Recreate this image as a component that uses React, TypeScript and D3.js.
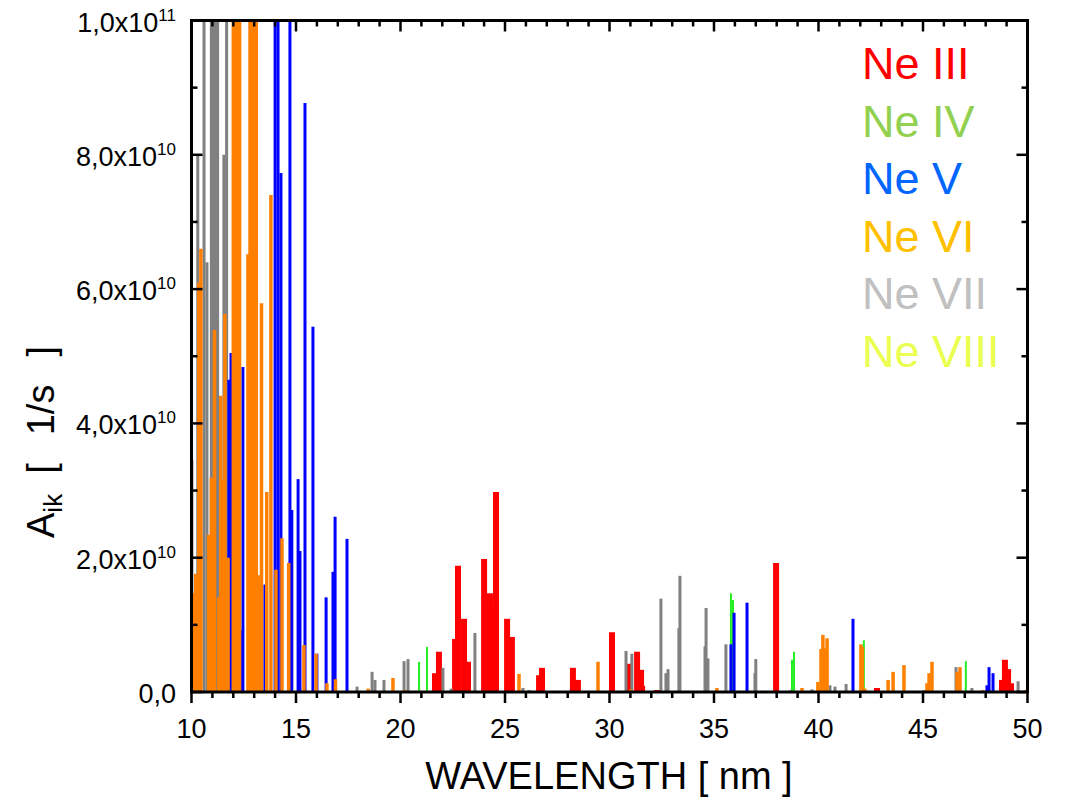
import React from "react";
import * as d3 from "d3";

// Transition probabilities A_ik (units of 1e10 1/s) versus wavelength (nm)
const neIIIWavelength = [21.65, 21.84, 22.61, 22.75, 23.04, 23.23, 24.0, 24.28, 24.38, 24.57, 25.1, 25.33, 26.63, 26.77, 28.25, 28.49, 30.12, 30.89, 31.32, 31.51, 31.56, 32.27, 37.97, 42.8, 48.78, 48.92, 49.07, 49.21];
const neIIIA = [0.28, 0.6, 0.79, 1.88, 1.09, 0.45, 1.98, 1.47, 1.28, 2.98, 1.09, 0.82, 0.25, 0.36, 0.36, 0.18, 0.89, 0.42, 0.6, 0.33, 0.09, 0.03, 1.92, 0.06, 0.18, 0.48, 0.34, 0.13];

const neIVWavelength = [20.89, 21.27, 35.81, 35.91, 38.73, 38.83, 42.17, 47.05];
const neIVA = [0.45, 0.67, 1.47, 1.37, 0.48, 0.6, 0.77, 0.46];

const neVWavelength = [11.79, 11.89, 12.42, 12.46, 13.51, 14.0, 14.14, 14.28, 14.71, 14.8, 15.1, 15.19, 15.43, 15.81, 16.0, 16.44, 16.77, 16.87, 17.44, 35.81, 35.96, 36.58, 41.65, 48.06, 48.16, 48.35];
const neVA = [4.65, 5.05, 0.92, 4.84, 1.6, 12, 12, 7.73, 12, 2.71, 3.17, 2.1, 8.77, 5.44, 0.57, 1.41, 1.79, 2.61, 2.28, 0.71, 1.18, 1.33, 1.09, 0.1, 0.37, 0.28];

const neVIWavelength = [10.07, 10.2, 10.35, 10.45, 10.82, 10.95, 11.1, 11.3, 11.4, 11.5, 11.6, 11.75, 12.0, 12.1, 12.2, 12.3, 12.7, 12.8, 12.9, 13.0, 13.1, 13.2, 13.35, 13.6, 13.8, 14.04, 14.33, 14.65, 15.38, 15.96, 16.48, 16.89, 18.45, 19.64, 20.22, 25.67, 29.45, 31.03, 35.14, 39.21, 39.97, 40.12, 40.21, 40.31, 40.41, 42.03, 42.1, 42.22, 43.33, 43.57, 44.09, 45.19, 45.29, 45.43, 46.63, 46.77, 47.87, 49.93];
const neVIA = [1.47, 1.76, 6.1, 6.6, 2.34, 3.19, 5.39, 1.41, 4.41, 3.16, 5.63, 2.0, 12, 12, 12, 12, 6.52, 12, 12, 12, 12, 1.74, 5.79, 2.98, 7.4, 1.82, 2.29, 1.92, 0.7, 0.57, 0.13, 0.19, 0.05, 0.21, 0.03, 0.27, 0.45, 0.04, 0.06, 0.06, 0.15, 0.64, 0.85, 0.65, 0.8, 0.71, 0.67, 0.05, 0.18, 0.3, 0.4, 0.13, 0.28, 0.45, 0.3, 0.37, 0.03, 0.03];

const neVIIWavelength = [10.02, 10.3, 10.6, 10.74, 10.95, 11.05, 11.15, 11.25, 11.55, 11.68, 17.92, 18.64, 18.78, 19.21, 20.17, 20.36, 22.03, 22.42, 23.56, 25.86, 26.15, 30.79, 31.07, 32.46, 32.7, 32.8, 33.32, 33.37, 34.57, 34.62, 34.71, 35.57, 36.96, 37.0, 38.68, 39.69, 40.55, 40.79, 41.32, 45.05, 46.58, 47.34, 49.55];
const neVIIA = [3.45, 8.0, 12, 6.4, 12, 12, 12, 12, 8.0, 12, 0.08, 0.3, 0.18, 0.18, 0.46, 0.49, 0.36, 0.05, 0.88, 0.06, 0.03, 0.61, 0.57, 1.39, 0.28, 0.34, 0.95, 1.73, 0.68, 1.25, 0.5, 0.71, 0.28, 0.49, 0.03, 0.04, 0.1, 0.08, 0.12, 0.03, 0.37, 0.06, 0.16];

const neVIIIWavelength: number[] = [];
const neVIIIA: number[] = [];

const ionNames = ["Ne III", "Ne IV", "Ne V", "Ne VI", "Ne VII", "Ne VIII"];
const legendColors = ["#ff0000", "#92d050", "#0066ff", "#ffc000", "#c0c0c0", "#eaff50"];
const lineColors = ["#ff0000", "#22ee22", "#0000ff", "#ff8000", "#808080", "#eaff50"];
const lineWidths = [6, 2, 3, 3.5, 3, 2];

const xTicks = [10, 15, 20, 25, 30, 35, 40, 45, 50];
const yTicks = [0, 2e10, 4e10, 6e10, 8e10, 1e11];

const series = [
  { w: neIIIWavelength, a: neIIIA },
  { w: neIVWavelength, a: neIVA },
  { w: neVWavelength, a: neVA },
  { w: neVIWavelength, a: neVIA },
  { w: neVIIWavelength, a: neVIIA },
  { w: neVIIIWavelength, a: neVIIIA },
];
// drawing order: Ne III, Ne IV, Ne VII, Ne VIII, Ne V, Ne VI
const drawOrder = [0, 1, 4, 5, 2, 3];

const W = 1066;
const H = 801;
const left = 191.5;
const right = 1027.5;
const top = 20.5;
const bottom = 692;
const FONT = "'Liberation Sans', Arial, Helvetica, sans-serif";

function tickLabel(v: number) {
  if (v === 0) return { mant: "0,0", exp: "" };
  const e = Math.floor(Math.log10(v) + 1e-9);
  const m = v / Math.pow(10, e);
  return { mant: d3.format(".1f")(m).replace(".", ",") + "x10", exp: String(e) };
}

export default function App() {
  const x = d3.scaleLinear().domain([10, 50]).range([left, right]);
  const y = d3.scaleLinear().domain([0, 1e11]).range([bottom, top]);
  const xMinor = d3.range(10, 51, 1);
  const yMinor = d3.range(0, 1.0001e11, 1e10);

  return (
    <svg width={W} height={H} style={{ display: "block", position: "absolute", left: 0, top: 0 }} fontFamily={FONT}>
      <defs>
        <clipPath id="plotClip">
          <rect x={left} y={top} width={right - left} height={bottom - top} />
        </clipPath>
      </defs>
      <rect width={W} height={H} fill="#fff" />
      <g clipPath="url(#plotClip)">
        {drawOrder.map((si) => (
          <g key={si} stroke={lineColors[si]} strokeWidth={lineWidths[si]}>
            {series[si].w.map((w, i) => (
              <line key={i} x1={x(w)} x2={x(w)} y1={y(0)} y2={y(series[si].a[i] * 1e10)} />
            ))}
          </g>
        ))}
      </g>
      {/* frame */}
      <rect x={left} y={top} width={right - left} height={bottom - top} fill="none" stroke="#000" strokeWidth={3} />
      {/* x ticks: outward on bottom, inward on top */}
      {xMinor.map((t) => {
        const major = t % 5 === 0;
        return (
          <g key={"xt" + t} stroke="#000" strokeWidth={2.5}>
            <line x1={x(t)} x2={x(t)} y1={bottom} y2={bottom + (major ? 11 : 6)} />
            <line x1={x(t)} x2={x(t)} y1={top} y2={top + (major ? 11 : 6)} />
          </g>
        );
      })}
      {/* y ticks: inward on both sides */}
      {yMinor.map((t, i) => {
        const major = i % 2 === 0;
        return (
          <g key={"yt" + i} stroke="#000" strokeWidth={2.5}>
            <line x1={left} x2={left + (major ? 11 : 6)} y1={y(t)} y2={y(t)} />
            <line x1={right} x2={right - (major ? 11 : 6)} y1={y(t)} y2={y(t)} />
          </g>
        );
      })}
      {xTicks.map((t) => (
        <text key={"xl" + t} x={x(t)} y={738} fontSize={27} textAnchor="middle" fill="#000">
          {t}
        </text>
      ))}
      {yTicks.map((t) => {
        const lab = tickLabel(t);
        return (
          <text key={"yl" + t} x={176} y={y(t) + 11} fontSize={27} textAnchor="end" fill="#000">
            {lab.mant}
            {lab.exp && (
              <tspan dy={-11} fontSize={17}>
                {lab.exp}
              </tspan>
            )}
          </text>
        );
      })}
      <text x={609} y={789} fontSize={38} textAnchor="middle" fill="#000">
        WAVELENGTH [ nm ]
      </text>
      <text transform="translate(54,538) rotate(-90)" fontSize={38} textAnchor="start" fill="#000">
        A<tspan dy={8} fontSize={26}>ik</tspan>
        <tspan dy={-8} dx={20}>[</tspan>
        <tspan dx={28}>1/s</tspan>
        <tspan dx={28}>]</tspan>
      </text>
      {ionNames.map((n, i) => (
        <text key={n} x={862} y={79 + i * 57.6} fontSize={45} fill={legendColors[i]}>
          {n}
        </text>
      ))}
    </svg>
  );
}
